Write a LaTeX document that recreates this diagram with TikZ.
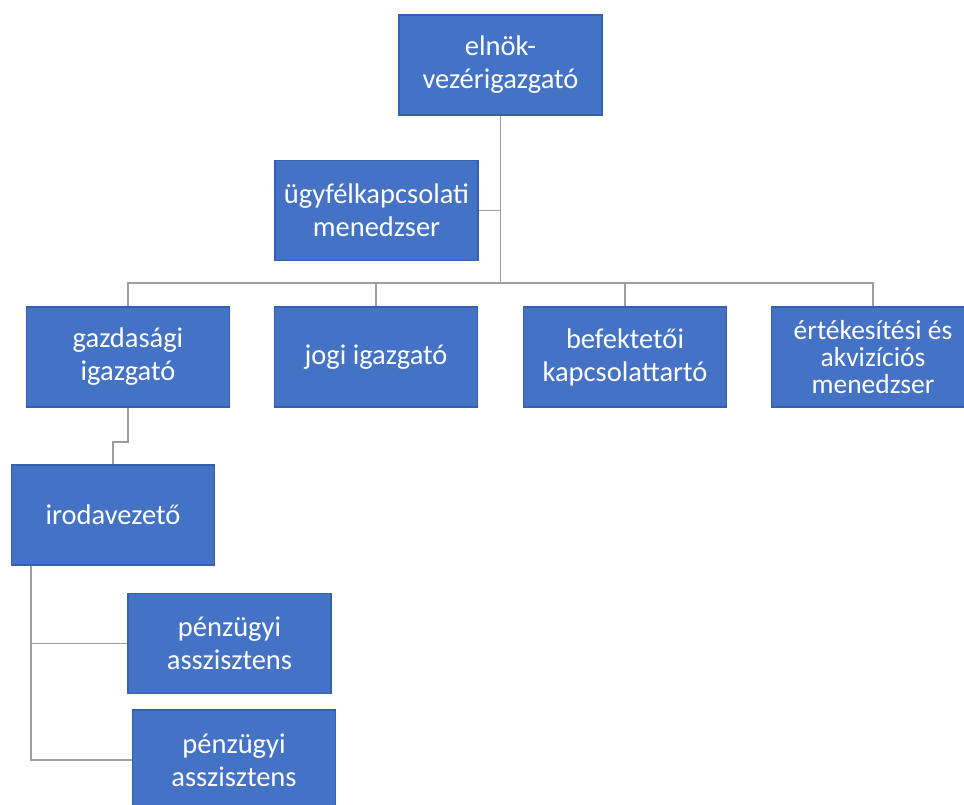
\documentclass[tikz,border=0pt]{standalone}
\usepackage{fontspec}
\setmainfont{Carlito}
\definecolor{boxblue}{HTML}{4472C4}
\definecolor{boxedge}{HTML}{3560AE}
\definecolor{linkgray}{HTML}{9E9E9E}
\tikzset{
  post/.style={draw=boxedge, line width=1.2pt, fill=boxblue, text=white,
    minimum width=203pt, minimum height=100pt, align=center, inner sep=2pt,
    font=\fontsize{28.5}{33}\selectfont},
  link/.style={draw=linkgray, line width=1.8pt}
}
\begin{document}
\begin{tikzpicture}[x=1pt, y=-1pt]
      \useasboundingbox (0,0) rectangle (964,805);
      \fill[white] (0,0) rectangle (964,805);
      \clip (0,0) rectangle (964,805);
      %
      \node[post] (ceo)    at (500.5,65)  {elnök-\\vezérigazgató};   % top
      \node[post] (ugyfel) at (376.5,210.5) {ügyfélkapcsolati\\menedzser};
      %
      \node[post] (gazd) at (128,357) {gazdasági\\igazgató};          % first row
      \node[post] (jogi) at (376,357) {jogi igazgató};
      \node[post] (bef)  at (625,357) {befektetői\\kapcsolattartó};
      \node[post, font=\fontsize{27.5}{27}\selectfont]
                  (ert)  at (873,357) {értékesítési és\\akvizíciós\\menedzser};
      %
      \node[post] (iroda)  at (113,515)   {irodavezető};               % office
      \node[post] (penz1)  at (229.5,643.5) {pénzügyi\\asszisztens};
      \node[post] (penz2)  at (234,760)   {pénzügyi\\asszisztens};
      %
      \coordinate (busL) at (128,283);   % bus
      \coordinate (busR) at (873,283);
      \coordinate (jog)  at (128,442);
      \coordinate (spine) at ([xshift=20]iroda.south west);
      %
      \draw[link] (ceo.south) -- (ceo.south |- busL);
      \draw[link] (ugyfel.east) -- (ugyfel.east -| ceo.south);
      \draw[link] (gazd.north) -- (busL) -- (busR) -- (ert.north);
      \draw[link] (jogi.north) -- (jogi.north |- busL);
      \draw[link] (bef.north) -- (bef.north |- busL);
      %
      \draw[link] (gazd.south) -- (jog) -| (iroda.north);
      \draw[link] (spine) |- (penz1.west);
      \draw[link] (spine) |- (penz2.west);
      %
    \end{tikzpicture}
\end{document}
